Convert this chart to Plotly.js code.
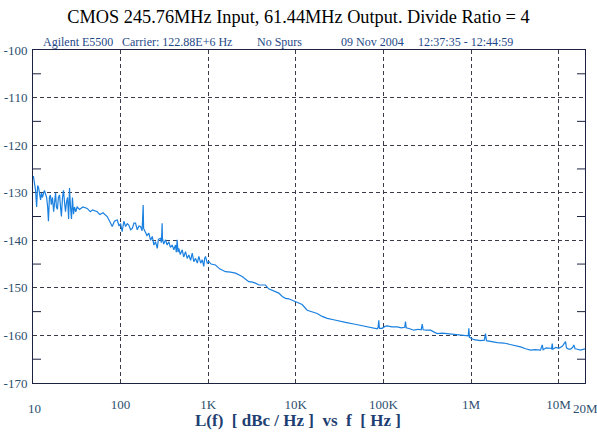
<!DOCTYPE html>
<html>
<head>
<meta charset="utf-8">
<script src="https://cdn.plot.ly/plotly-3.0.1.min.js"></script>
<style>html,body{margin:0;padding:0;background:#fff;}#chart{width:597px;height:432px;}</style>
</head>
<body>
<div id="chart"></div>
<script>
// Offset frequency (Hz)
const freq = [
10.1,10.4,10.7,11.0,11.3,11.6,12.2,12.5,12.8,13.5,14.0,14.3,14.7,15.0,15.4,15.8,16.2,16.7,17.2,17.6,
18.1,18.5,19.0,19.5,20.1,20.6,21.1,21.7,22.3,22.9,23.5,24.1,24.8,25.5,26.1,26.8,27.5,28.2,29.0,29.8,
30.8,31.9,34,37,41.6,45,48,54.1,58,63,70.3,75,80.2,85,91.4,96,100,104,109,114,119,124,130,136,142,148,
155,162,169,176,179,181,183,192,200,210,220,230,240,250,262,270,285,292,296,298,300,310,326,340,355,370,
388,405,423,432,442,452,462,480,505,525,551,575,601,630,657,685,717,750,782,820,855,891,910,932,975,1017,
1080,1159,1211,1350,1575,1800,2048,2443,2700,2905,3200,3464,3800,4130,4508,4900,5377,5800,6399,7000,7626,
8300,9095,10380,11800,13490,15500,17550,20000,22820,27000,32370,38000,45920,52000,59720,68000,77680,85000,
87000,88550,90000,96800,104000,110400,125000,143700,160000,175000,178700,182000,200000,222500,250000,270000,
277300,284000,310000,345000,380000,411200,470000,534600,600000,695300,800000,905400,930000,944000,960000,
1077000,1283000,1420000,1462000,1500000,1670000,2000000,2368000,3000000,3670000,4200000,4775000,5400000,
6209000,6350000,6496000,6650000,7200000,8085000,8300000,8456000,8600000,9300000,10050000,11000000,11990000,
12300000,13000000,13680000,14500000,14920000,15400000,16500000,17790000,20000000
];
// Phase noise L(f) (dBc/Hz)
const phaseNoise = [
-126.5,-128,-129.5,-133,-128.5,-129,-131.5,-130,-131,-129.5,-130.5,-131,-133,-136,-131,-130.5,-132.5,-131,-134,-132,
-130,-133,-133.5,-131,-130.5,-133,-135,-131,-129.5,-132,-134,-132,-131,-135.5,-129,-133,-135.5,-131,-134.5,-133,
-134,-133,-133.5,-133,-133.3,-134,-133.6,-134,-134.6,-134.2,-135,-136,-137.1,-136,-135.7,-137,-136.5,-138.2,-136,-137.1,-136.5,-136.8,-137.8,-137.5,-136.4,-136.4,
-137.8,-137,-137.1,-138,-136,-132.6,-137.5,-138.2,-139,-138.5,-140,-139.2,-141,-140.3,-141.7,-139.8,-139.6,-140.5,-138,-136.4,-139.5,-140.8,-139.9,-141,-140.3,-141.5,
-141,-142,-141,-142.5,-139.9,-142.5,-141.7,-143,-142,-143.5,-142.4,-143.8,-143.1,-144.2,-142.7,-144.5,-143.8,-144.8,-143.4,-144.8,-144.1,-145.5,-143.8,-143.4,-144.8,-144.5,
-145,-145.2,-145.2,-146,-146.6,-146.7,-146.9,-147.6,-148.2,-148.7,-148.8,-149,-149.4,-149.4,-149.4,-150.2,-150.5,-150.7,-151.1,-151.8,-152.2,
-152.3,-152.6,-153.2,-153.5,-154.7,-155,-155.4,-156,-156.4,-156.7,-157.1,-157.3,-157.6,-157.8,-158,-158.2,-158.5,-158.6,
-158.3,-156.8,-158.5,-158.5,-158.1,-158,-158.2,-158.2,-158.4,-158.3,-157.1,-158.4,-158.6,-158.9,-158.7,-158.8,
-157.6,-158.8,-158.9,-158.9,-159.3,-159.6,-159.5,-159.6,-159.8,-159.9,-160,-160.1,-160.1,-158.5,-160.4,
-160.9,-161.1,-161,-159.6,-161.1,-161.3,-161.5,-161.6,-162,-162.4,-162.8,-163.1,-163,
-163.1,-162.5,-162,-163,-162.6,-162.7,-162.8,-161.7,-162.9,-162.5,-162.7,-162.3,-161.3,
-162.6,-162.9,-162.9,-162.5,-162,-162.8,-162.9,-163.1,-162.8
];
const xTickVals = [100, 1e3, 1e4, 1e5, 1e6, 1e7];
const xTickText = ['100', '1K', '10K', '100K', '1M', '10M'];
const xMinorVals = [20,40,60,80,200,400,600,800,2e3,4e3,6e3,8e3,2e4,4e4,6e4,8e4,2e5,4e5,6e5,8e5,2e6,4e6,6e6,8e6];
const yTickVals = [-170,-160,-150,-140,-130,-120,-110,-100];
const yTickText = ['-170','-160','-150','-140','-130','-120','-110','-100'];
const yMinorVals = [-165,-155,-145,-135,-125,-115,-105];
const fMin = 10, fMax = 2e7;

const serif = 'Liberation Serif, Times New Roman, serif';
const axisCol = '#1c2340';
const labCol = '#2d4f6e';
const hdrCol = '#1f4a88';

const plotW = 552, plotH = 333;
const px = x => (x - 33) / plotW;
const py = y => (383 - y) / plotH;

const trace = {
  x: freq, y: phaseNoise, type: 'scatter', mode: 'lines',
  line: {color: '#1a80e0', width: 1.2}, hoverinfo: 'skip'
};

// minor tick marks (inside, on both opposite sides) drawn as shapes
const tickLine = {color: axisCol, width: 1};
const shapes = [];
xMinorVals.forEach(v => {
  const lx = Math.log10(v);
  shapes.push({type: 'line', xref: 'x', yref: 'paper', x0: lx, x1: lx, y0: 0, y1: 6 / plotH, line: tickLine, layer: 'above'});
  shapes.push({type: 'line', xref: 'x', yref: 'paper', x0: lx, x1: lx, y0: 1 - 6 / plotH, y1: 1, line: tickLine, layer: 'above'});
});
yMinorVals.forEach(v => {
  shapes.push({type: 'line', xref: 'paper', yref: 'y', x0: 0, x1: 8 / plotW, y0: v, y1: v, line: tickLine, layer: 'above'});
  shapes.push({type: 'line', xref: 'paper', yref: 'y', x0: 1 - 8 / plotW, x1: 1, y0: v, y1: v, line: tickLine, layer: 'above'});
});

const hdr = (txt, x) => ({text: txt, xref: 'paper', yref: 'paper', x: px(x), y: py(42),
  xanchor: 'left', yanchor: 'middle', showarrow: false, font: {family: serif, size: 12, color: hdrCol}});

const layout = {
  width: 597, height: 432,
  paper_bgcolor: '#fff', plot_bgcolor: '#fff',
  margin: {l: 33, r: 12, t: 50, b: 49},
  showlegend: false,
  title: {text: 'CMOS 245.76MHz Input, 61.44MHz Output. Divide Ratio = 4',
          x: 0.5, xanchor: 'center', y: 1 - 17/432, yanchor: 'middle', yref: 'container',
          font: {family: serif, size: 18.3, color: '#000'}},
  xaxis: {
    type: 'log', range: [Math.log10(fMin), Math.log10(fMax)],
    showline: true, linecolor: axisCol, linewidth: 1, mirror: true,
    showgrid: true, gridcolor: '#3a3a4a', gridwidth: 1, griddash: '4px,3px',
    tickmode: 'array', tickvals: xTickVals, ticktext: xTickText, ticks: '',
    ticklabelstandoff: 9,
    tickfont: {family: serif, size: 13, color: labCol},
    zeroline: false, fixedrange: true
  },
  yaxis: {
    range: [-170, -100],
    showline: true, linecolor: axisCol, linewidth: 1, mirror: true,
    showgrid: true, gridcolor: '#3a3a4a', gridwidth: 1, griddash: '4px,3px',
    tickmode: 'array', tickvals: yTickVals, ticktext: yTickText, ticks: '',
    ticklabelstandoff: 2,
    tickfont: {family: serif, size: 13, color: labCol},
    zeroline: false, fixedrange: true
  },
  shapes: shapes,
  annotations: [
    hdr('Agilent E5500', 41),
    hdr('Carrier: 122.88E+6 Hz', 120),
    hdr('No Spurs', 255),
    hdr('09 Nov 2004', 339),
    hdr('12:37:35 - 12:44:59', 416),
    {text: '10', xref: 'paper', yref: 'paper', x: px(34), y: py(408), xanchor: 'center', yanchor: 'middle',
     showarrow: false, font: {family: serif, size: 13, color: labCol}},
    {text: '20M', xref: 'paper', yref: 'paper', x: px(585), y: py(408), xanchor: 'center', yanchor: 'middle',
     showarrow: false, font: {family: serif, size: 13, color: labCol}},
    {text: 'L(f)\u00a0\u00a0[ dBc / Hz ]\u00a0\u00a0vs\u00a0\u00a0f\u00a0\u00a0[ Hz ]', xref: 'paper', yref: 'paper',
     x: px(298), y: py(420), xanchor: 'center', yanchor: 'middle', showarrow: false,
     font: {family: serif, size: 17, color: '#1e3f72', weight: 'bold'}}
  ]
};

Plotly.newPlot('chart', [trace], layout, {displayModeBar: false, staticPlot: true});
</script>
</body>
</html>
